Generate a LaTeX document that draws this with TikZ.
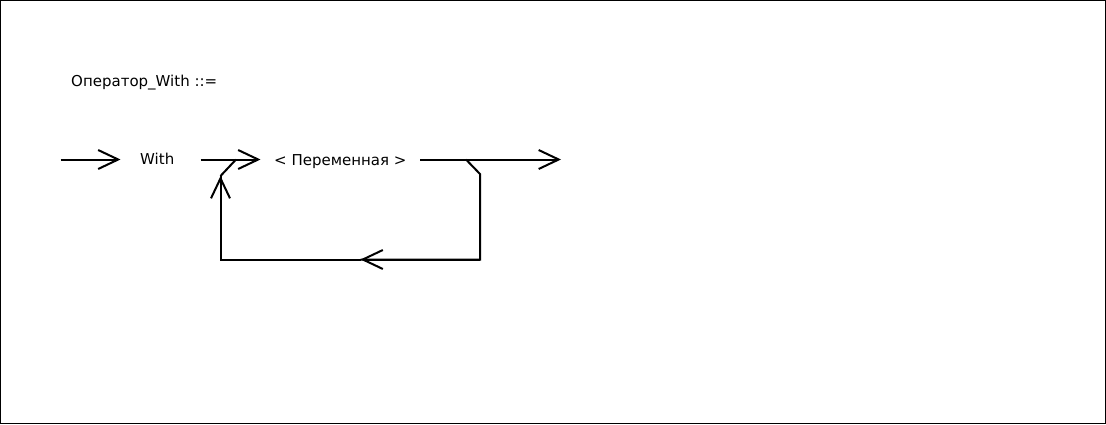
\documentclass[tikz,border=0pt]{standalone}
\usepackage{fontspec}
\setmainfont{DejaVu Sans}
\usetikzlibrary{arrows.meta}
\begin{document}
\begin{tikzpicture}[x=1pt,y=-1pt,
  lbl/.style={inner sep=0pt,anchor=base west,font=\fontsize{15}{17}\selectfont},
  conn/.style={line width=2pt,line cap=butt,line join=miter},
  arr/.style={conn,-{Straight Barb[length=20pt,width=19pt,line width=2pt]}}]
\useasboundingbox (0,0) rectangle (1106,424);
\draw[line width=1pt] (0.5,0.5) rectangle (1105.5,423.5);
\node[lbl] (title) at (71,86.5) {Оператор\_With ::=};
\node[lbl] (with) at (140,164) {With};
\node[lbl] (var) at (274,165) {< Переменная >};
% coordinates
\coordinate (a0) at (60.5,159.5);
\coordinate (a1) at (120.5,159.5);
\coordinate (b0) at (200.5,159.5);
\coordinate (b1) at (260.5,159.5);
\coordinate (c0) at (420,159.5);
\coordinate (c1) at (561,159.5);
\coordinate (j1) at (466,159.5);
\coordinate (r1) at (480,174);
\coordinate (r2) at (480,259.5);
\coordinate (m) at (360.5,259.5);
\coordinate (l1) at (220.5,259.5);
\coordinate (l2) at (220.5,176);
\coordinate (j2) at (236,159.5);
\draw[arr] (a0) -- (a1);
\draw[arr] (b0) -- (b1);
\draw[arr] (c0) -- (c1);
\draw[conn] (j1) -- (r1) -- (r2) -- (m);
\draw[arr] (r2) -- (m);
\draw[conn] (m) -- (l1) -- (l2);
\draw[arr] (l1) -- (l2);
\draw[conn] (l2) -- (j2);
\end{tikzpicture}
\end{document}
